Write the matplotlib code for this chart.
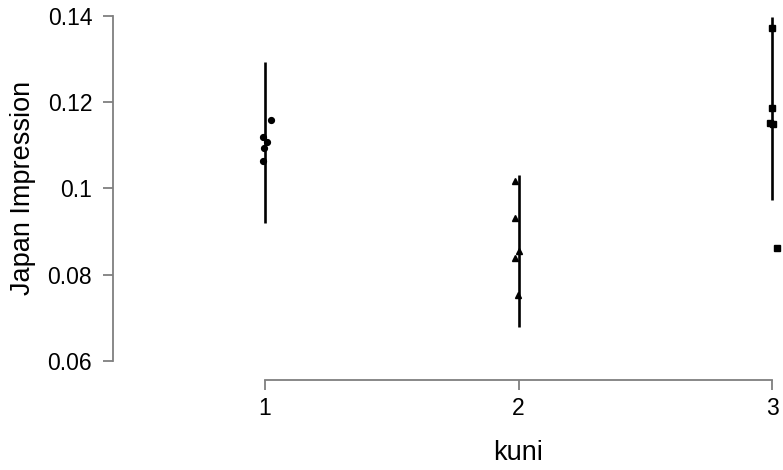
import matplotlib
matplotlib.use("Agg")
import matplotlib.pyplot as plt

plt.rcParams['font.family'] = ['Liberation Sans', 'DejaVu Sans']

# group positions and labels
groups = [1, 2, 3]
group_labels = ["1", "2", "3"]

# error bar (interval) ends per group
err_low = [0.0920, 0.0680, 0.0973]
err_high = [0.1293, 0.1031, 0.1398]

# jittered points
g1_x = [1.0225, 0.9933, 1.0067, 0.9972, 0.9909]
g1_y = [0.1159, 0.1119, 0.1107, 0.1095, 0.1064]
g2_x = [1.984, 1.987, 2.000, 1.987, 1.997]
g2_y = [0.1017, 0.0932, 0.0855, 0.0838, 0.0753]
g3_x = [3.000, 3.000, 2.992, 3.004, 3.019]
g3_y = [0.1373, 0.1186, 0.1151, 0.1150, 0.0861]

yticks = [0.06, 0.08, 0.10, 0.12, 0.14]
ytick_labels = ["0.06", "0.08", "0.1", "0.12", "0.14"]

fig = plt.figure(figsize=(7.83, 4.70), dpi=100)
ax = fig.add_axes([113/783, 90/470, 1 - 113/783, 380/470])

for g, lo, hi in zip(groups, err_low, err_high):
    ax.plot([g, g], [lo, hi], color='black', lw=1.9, solid_capstyle='butt', zorder=2)

ax.plot(g1_x, g1_y, 'o', color='black', ms=4.2, zorder=3)
ax.plot(g2_x, g2_y, '^', color='black', ms=4.5, zorder=3)
ax.plot(g3_x, g3_y, 's', color='black', ms=4.0, zorder=3)

ax.set_xlim(0.4004, 3.043)
ax.set_ylim(0.0556, 0.1437)

for s in ['top', 'right']:
    ax.spines[s].set_visible(False)
for s in ['left', 'bottom']:
    ax.spines[s].set_color('#7f7f7f')
    ax.spines[s].set_linewidth(1.3)
ax.spines['left'].set_bounds(0.06, 0.14)
ax.spines['bottom'].set_bounds(1, 3)

ax.set_yticks(yticks)
ax.set_yticklabels(ytick_labels)
ax.set_xticks(groups)
ax.set_xticklabels(group_labels)
ax.tick_params(axis='both', colors='#7f7f7f', labelcolor='black', labelsize=16.5,
               length=7, width=1.3)
ax.tick_params(axis='y', pad=8)
ax.tick_params(axis='x', pad=5)

ax.set_xlabel("kuni", fontsize=19.5)
ax.xaxis.set_label_coords((518 - 113) / 670, -(466 - 380) / 380, transform=ax.transAxes)
ax.xaxis.label.set_verticalalignment('bottom')
ax.set_ylabel("Japan Impression", fontsize=19.5)
ax.yaxis.set_label_coords(-(113 - 10) / 670, (380 - 188) / 380, transform=ax.transAxes)
ax.yaxis.label.set_verticalalignment('top')

fig.savefig("out.png", dpi=100)
